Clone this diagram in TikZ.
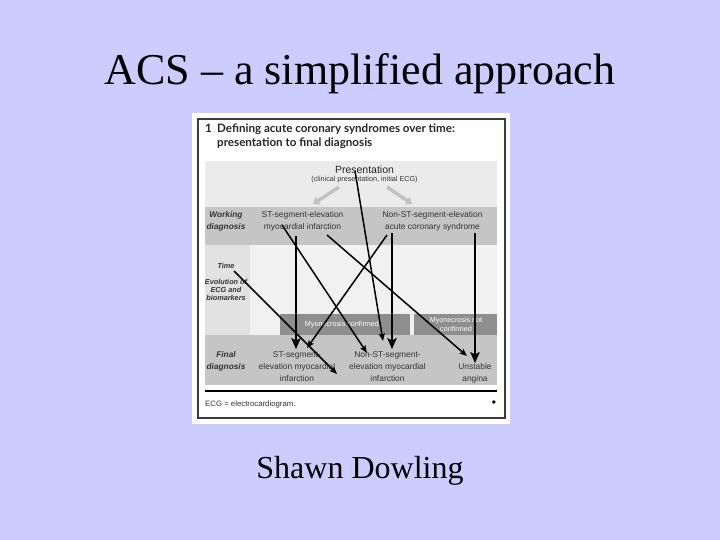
\documentclass[tikz,border=0pt]{standalone}
\usepackage{fontspec}
\setmainfont{Liberation Serif}
\newfontfamily\arialf{Liberation Sans}
\newfontfamily\headf{Lato}
\usetikzlibrary{arrows.meta}
\definecolor{slidebg}{HTML}{CCCCFF}
\definecolor{figtext}{HTML}{333333}
\definecolor{panelbg}{HTML}{F1F1F1}
\definecolor{presband}{HTML}{EBEBEB}
\definecolor{midband}{HTML}{C5C5C5}
\definecolor{leftcol}{HTML}{E2E2E2}
\definecolor{darkband}{HTML}{8E8E8E}
\definecolor{ghostarrow}{HTML}{C2C2C2}
\definecolor{framecol}{HTML}{3C3C3C}
\tikzset{
  lbl/.style={font=\arialf\fontsize{8.4}{12.3}\selectfont, text=figtext, align=center, inner sep=0pt},
  collbl/.style={font=\arialf\bfseries\itshape\fontsize{8.3}{12}\selectfont, text=figtext, align=center, inner sep=0pt},
  evollbl/.style={font=\arialf\bfseries\itshape\fontsize{7.3}{8.2}\selectfont, text=figtext, align=center, inner sep=0pt},
  myolbl/.style={font=\arialf\fontsize{7.2}{8.3}\selectfont, text=white, align=center, inner sep=0pt},
  headlbl/.style={font=\headf\bfseries\fontsize{11.6}{13}\selectfont, text=black!85, inner sep=0pt, anchor=base west},
  bigarrow/.style={line width=1.6pt, -{Stealth[length=11pt,width=9.5pt,inset=2.5pt]}},
  smallarrow/.style={line width=1.5pt, -{Stealth[length=7.5pt,width=6pt,inset=1.5pt]}},
  grayarrow/.style={ghostarrow, line width=3.5pt, -{Triangle[length=6pt,width=9pt]}}
}
\begin{document}
\begin{tikzpicture}[x=1pt,y=-1pt]
\useasboundingbox (0,0) rectangle (720,540);
\fill[slidebg] (0,0) rectangle (720,540);

% titles
\node[anchor=base, inner sep=0pt, font=\fontsize{44}{50}\selectfont] (title) at (360,85) {ACS -- a simplified approach};
\node[anchor=base, inner sep=0pt, font=\fontsize{32}{38}\selectfont] (author) at (360,478) {Shawn Dowling};

% figure frame
\fill[white] (192,113) rectangle (510,424);
\draw[framecol, line width=1.4pt] (198,119) rectangle (505,418);

% heading
\node[headlbl] (hnum) at (205,133) {1};
\node[headlbl] (hline1) at (217,133) {Defining acute coronary syndromes over time:};
\node[headlbl] (hline2) at (217,147) {presentation to final diagnosis};

% panel bands
\fill[presband] (205,161) rectangle (497,207);
\fill[midband] (205,207) rectangle (497,245);
\fill[panelbg] (205,245) rectangle (497,335);
\fill[leftcol] (205,245) rectangle (250,335);
\fill[darkband] (280,314) rectangle (410,335);
\fill[darkband] (414,314) rectangle (497,335);
\fill[midband] (205,335) rectangle (497,385);
\draw[black, line width=1.1pt] (205,391) -- (497,391);

% texts
\node[anchor=base, inner sep=0pt, font=\arialf\fontsize{10.5}{12}\selectfont, text=black!85] (pres) at (364.5,174) {Presentation};
\node[anchor=base, inner sep=0pt, font=\arialf\fontsize{7.2}{9}\selectfont, text=figtext] (presdetail) at (364.5,182) {(clinical presentation, initial ECG)};

\node[collbl] (wdlab) at (226,221) {Working\\diagnosis};
\node[lbl] (wste) at (302.5,221.5) {ST-segment-elevation\\myocardial infarction};
\node[lbl] (wnste) at (432.5,221.5) {Non-ST-segment-elevation\\acute coronary syndrome};

\node[evollbl] (timelbl) at (226,266) {Time};
\node[evollbl] (evol) at (226,290) {Evolution of\\ECG and\\biomarkers};

\node[myolbl] (myo1) at (342,324.5) {Myonecrosis confirmed};
\node[myolbl] (myo2) at (456,324.5) {Myonecrosis not\\confirmed};

\node[collbl] (fdlab) at (226,361) {Final\\diagnosis};
\node[lbl] (fste) at (297,366.5) {ST-segment-\\elevation myocardial\\infarction};
\node[lbl] (fnste) at (387.5,366.5) {Non-ST-segment-\\elevation myocardial\\infarction};
\node[lbl] (fua) at (475,373) {Unstable\\angina};

\node[anchor=base west, inner sep=0pt, font=\arialf\fontsize{7.8}{9}\selectfont, text=figtext] (footer) at (205,406) {ECG = electrocardiogram.};
\node[inner sep=0pt, font=\arialf\fontsize{12}{12}\selectfont] (bullet) at (494,403.5) {•};

% gray arrows from presentation
\coordinate (gl1) at (339,187);
\coordinate (gl2) at (313,204);
\coordinate (gr1) at (387,187);
\coordinate (gr2) at (412,204);
\draw[grayarrow] (gl1) -- (gl2);
\draw[grayarrow] (gr1) -- (gr2);

% black overlay arrows
\coordinate (eS) at (355,171);   \coordinate (eE) at (383,341);
\coordinate (dS) at (296,236);   \coordinate (dE) at (296,349);
\coordinate (aS) at (282,225);   \coordinate (aE) at (367,353);
\coordinate (bS) at (327,235);   \coordinate (bE) at (467,356);
\coordinate (cS) at (234,271);   \coordinate (cE) at (337,374);
\coordinate (fS) at (387,235);   \coordinate (fE) at (307,348);
\coordinate (gS) at (392,233);   \coordinate (gE) at (392,349);
\coordinate (hS) at (475,233);   \coordinate (hE) at (475,363);

\draw[smallarrow] (eS) -- (eE);
\draw[smallarrow] (aS) -- (aE);
\draw[smallarrow] (bS) -- (bE);
\draw[smallarrow] (cS) -- (cE);
\draw[smallarrow] (fS) -- (fE);
\draw[bigarrow] (dS) -- (dE);
\draw[bigarrow] (gS) -- (gE);
\draw[bigarrow] (hS) -- (hE);
\end{tikzpicture}
\end{document}
